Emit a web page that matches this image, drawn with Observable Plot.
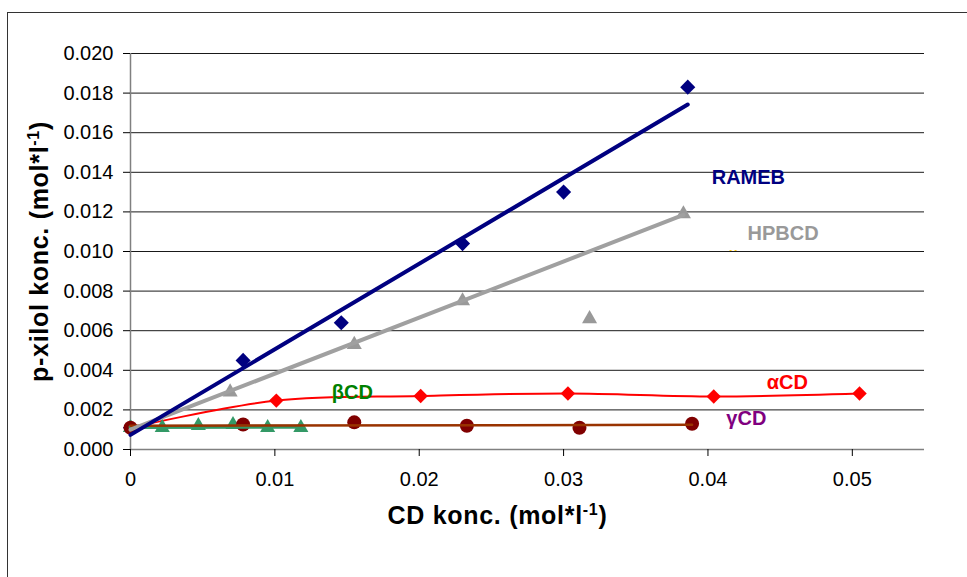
<!DOCTYPE html>
<html>
<head>
<meta charset="utf-8">
<script src="https://cdn.jsdelivr.net/npm/d3@7"></script>
<script src="https://cdn.jsdelivr.net/npm/@observablehq/plot@0.6"></script>
<style>
  html, body { margin: 0; padding: 0; background: #fff; overflow: hidden; }
  #wrap { position: relative; width: 967px; height: 577px; overflow: hidden; }
  #frame { position: absolute; left: 7px; top: 12px; width: 1000px; height: 1000px; border: 1.5px solid #333; box-sizing: border-box; }
  #chart { position: absolute; left: 0; top: 0; }
</style>
</head>
<body>
<div id="wrap"><div id="frame"></div><div id="chart"></div></div>
<script>
// ---- data ----
const xTicks = [0, 0.01, 0.02, 0.03, 0.04, 0.05];
const yTicks = [0, 0.002, 0.004, 0.006, 0.008, 0.010, 0.012, 0.014, 0.016, 0.018, 0.020];

const ramebX = [0, 0.0078, 0.0146, 0.0230, 0.0300, 0.0386];
const ramebY = [0.0011, 0.0045, 0.0064, 0.0104, 0.0130, 0.0183];

const hpbcdX = [0, 0.0069, 0.0155, 0.0230, 0.0318, 0.0383];
const hpbcdY = [0.0011, 0.0029, 0.0053, 0.0075, 0.0066, 0.0119];
const hpbcdOutlier = [false, false, false, false, true, false];

const alphaX = [0, 0.0101, 0.0201, 0.0303, 0.0404, 0.0505];
const alphaY = [0.0011, 0.00247, 0.0027, 0.00283, 0.00268, 0.00283];

const betaX = [0, 0.0022, 0.0047, 0.0071, 0.0095, 0.0118];
const betaY = [0.0011, 0.00111, 0.0012, 0.00125, 0.0011, 0.0011];

const gammaX = [0, 0.0078, 0.0155, 0.0233, 0.0311, 0.0389];
const gammaY = [0.0011, 0.00126, 0.00137, 0.0012, 0.0011, 0.0013];

const toRows = (xs, ys) => xs.map((x, i) => ({x, y: ys[i]}));
const rameb = toRows(ramebX, ramebY);
const hpbcd = toRows(hpbcdX, hpbcdY);
const hpbcdFit = hpbcd.filter((d, i) => !hpbcdOutlier[i]);
const alpha = toRows(alphaX, alphaY);
const beta = toRows(betaX, betaY);
const gamma = toRows(gammaX, gammaY);

const FONT = "'Liberation Sans', Arial, Helvetica, sans-serif";

const chart = Plot.plot({
  width: 967,
  height: 577,
  marginLeft: 130,
  marginRight: 43,
  marginTop: 53,
  marginBottom: 128,
  style: {fontFamily: FONT, fontSize: "20px", color: "#000", background: "transparent", overflow: "visible"},
  x: {domain: [0, 0.055]},
  y: {domain: [0, 0.020]},
  marks: [
    Plot.gridY(yTicks, {stroke: "#000", strokeOpacity: 0.9, strokeWidth: 1}),
    Plot.ruleX([0], {stroke: "#808080", strokeWidth: 1.5}),
    Plot.ruleY([0], {stroke: "#808080", strokeWidth: 1.5}),
    Plot.axisY({ticks: yTicks, tickFormat: d3.format(".3f"), tickSize: 7, tickPadding: 10, label: null, fontSize: 20}),
    Plot.axisX({ticks: xTicks, tickFormat: d => d === 0 ? "0" : String(d), tickSize: 7, tickPadding: 15, label: null, fontSize: 20}),

    // series lines / markers
    Plot.line(alpha, {x: "x", y: "y", stroke: "#FF0000", strokeWidth: 2, curve: "catmull-rom"}),
    Plot.dot(alpha, {x: "x", y: "y", symbol: "diamond2", r: 6.5, fill: "#FF0000", stroke: "none"}),
    Plot.dot(hpbcd, {x: "x", y: "y", symbol: "triangle", r: 5.6, fill: "#999999", stroke: "none"}),
    Plot.dot(rameb, {x: "x", y: "y", symbol: "diamond2", r: 6.8, fill: "#000080", stroke: "none"}),
    Plot.dot(beta, {x: "x", y: "y", symbol: "triangle", r: 5.6, fill: "#339966", stroke: "none"}),
    Plot.dot(gamma, {x: "x", y: "y", symbol: "circle", r: 7, fill: "#800000", stroke: "none"}),

    // trendlines
    Plot.linearRegressionY(beta, {x: "x", y: "y", stroke: "#339966", strokeWidth: 4, ci: 0}),
    Plot.linearRegressionY(gamma, {x: "x", y: "y", stroke: "#993300", strokeWidth: 2.5, ci: 0}),
    Plot.linearRegressionY(hpbcdFit, {x: "x", y: "y", stroke: "#A0A0A0", strokeWidth: 4, ci: 0}),
    Plot.linearRegressionY(rameb, {x: "x", y: "y", stroke: "#000080", strokeWidth: 4, ci: 0}),

    // series labels
    Plot.text(["RAMEB"], {x: 0.0428, y: 0.01374, fill: "#000080", fontWeight: "bold", fontSize: 20}),
    Plot.text(["HPBCD"], {x: 0.0452, y: 0.0109, fill: "#999999", fontWeight: "bold", fontSize: 20}),
    Plot.text(["- -"], {x: 0.04176, y: 0.0101, fill: "#FFCC00", fontWeight: "bold", fontSize: 8}),
    Plot.text(["βCD"], {x: 0.01537, y: 0.00288, fill: "#008000", fontWeight: "bold", fontSize: 20}),
    Plot.text(["αCD"], {x: 0.0455, y: 0.00338, fill: "#FF0000", fontWeight: "bold", fontSize: 20}),
    Plot.text(["γCD"], {x: 0.04266, y: 0.00157, fill: "#800080", fontWeight: "bold", fontSize: 20}),

    // axis titles (superscripts added below)
    Plot.text(["CD konc. (mol*l"], {frameAnchor: "bottom", textAnchor: "middle", lineAnchor: "middle", dx: -30, dy: 66, fontWeight: "bold", fontSize: 25, className: "xtitle", fill: "#000"}),
    Plot.text(["p-xilol konc. (mol*l"], {frameAnchor: "left", textAnchor: "middle", lineAnchor: "middle", dx: -91, rotate: -90, fontWeight: "bold", fontSize: 25, className: "ytitle", fill: "#000"})
  ]
});

document.getElementById("chart").appendChild(chart);

// add the "-1" superscript and closing parenthesis to the axis titles
function addSup(sel) {
  const t = chart.querySelector(sel + " text");
  if (!t) return;
  const base = t.textContent;
  t.textContent = "";
  t.setAttribute("letter-spacing", "0.7");
  const NS = "http://www.w3.org/2000/svg";
  const a = document.createElementNS(NS, "tspan"); a.textContent = base; t.appendChild(a);
  const s = document.createElementNS(NS, "tspan"); s.textContent = "-1"; s.setAttribute("font-size", "16"); s.setAttribute("dy", "-9"); t.appendChild(s);
  const c = document.createElementNS(NS, "tspan"); c.textContent = ")"; c.setAttribute("dy", "9"); t.appendChild(c);
}
addSup("g.xtitle");
addSup("g.ytitle");
</script>
</body>
</html>
